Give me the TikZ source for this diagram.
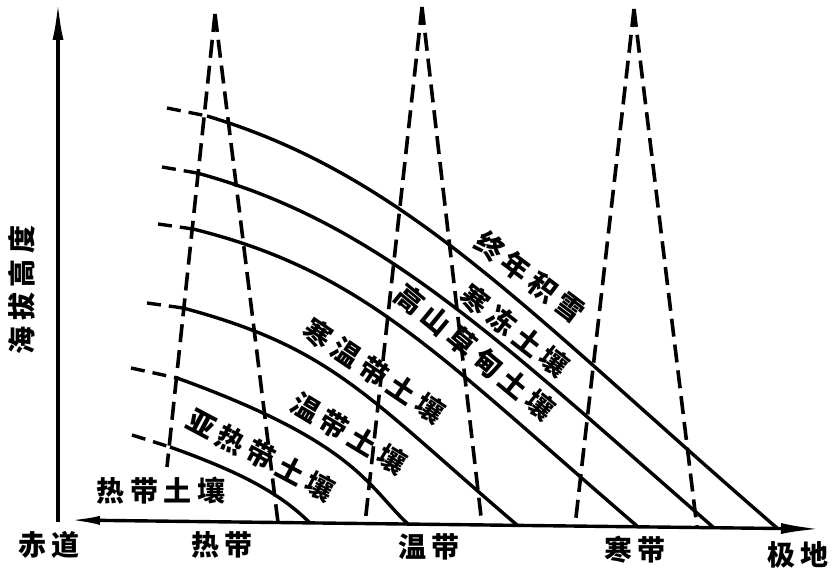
\documentclass[tikz,border=0pt]{standalone}
\usepackage{fontspec}
\newfontfamily\cjk{Noto Sans CJK SC}[LetterSpace=20]
\usetikzlibrary{arrows.meta}
\begin{document}
\begin{tikzpicture}[x=0.5pt,y=-0.5pt,
  lbl/.style={font=\cjk\bfseries\fontsize{14pt}{16pt}\selectfont, inner sep=0pt},
  axisline/.style={line width=1.7pt},
  soil/.style={line width=1.7pt},
  zone/.style={line width=1.8pt, dash pattern=on 9pt off 4pt},
  ext/.style={line width=1.7pt, dash pattern=on 7pt off 4pt}]
\useasboundingbox (0,0) rectangle (835,571);

% axes
\coordinate (yb) at (58,522);
\coordinate (yt) at (58,2);
\coordinate (xl) at (68,520);
\coordinate (xr) at (821,529);
\draw[axisline,-{Latex[length=19pt,width=5.5pt]}] (yb) -- (yt);
\draw[axisline,{Latex[length=16pt,width=4.5pt]}-{Latex[length=20pt,width=5.5pt]}] (xl) -- (xr);

% dashed zone peaks
\coordinate (p1) at (215,14);  \coordinate (p1l) at (167,467); \coordinate (p1r) at (278,522.5);
\coordinate (p2) at (422,7);   \coordinate (p2l) at (365,523.5); \coordinate (p2r) at (482,525);
\coordinate (p3) at (634,9);   \coordinate (p3l) at (575,526); \coordinate (p3r) at (697,527.5);
\foreach \p in {p1,p2,p3}{
  \draw[zone] (\p) -- (\p l);
  \draw[zone] (\p) -- (\p r);
}

% soil boundary curves
\coordinate (c1a) at (167,108); \coordinate (c1s) at (207,116); \coordinate (c1e) at (777,528);
\coordinate (c2a) at (162,167); \coordinate (c2s) at (197,173); \coordinate (c2e) at (713,527);
\coordinate (c3a) at (158,224); \coordinate (c3s) at (193,229); \coordinate (c3e) at (637,526);
\coordinate (c4a) at (147,303); \coordinate (c4s) at (183,308); \coordinate (c4e) at (517,525);
\coordinate (c5a) at (131,368); \coordinate (c5s) at (177,378); \coordinate (c5e) at (408,524);
\coordinate (c6a) at (132,435); \coordinate (c6s) at (170,447); \coordinate (c6e) at (310,523);

\draw[ext] (c1a) -- (c1s);
\draw[ext] (c2a) -- (c2s);
\draw[ext] (c3a) -- (c3s);
\draw[ext] (c4a) -- (c4s);
\draw[ext] (c5a) -- (c5s);
\draw[ext] (c6a) -- (c6s);

\draw[soil] (c1s) .. controls (407,176) and (527,312) .. (c1e);
\draw[soil] (c2s) .. controls (377,222) and (493,335) .. (c2e);
\draw[soil] (c3s) .. controls (363,271) and (437,354) .. (c3e);
\draw[soil] (c4s) .. controls (333,348) and (367,397) .. (c4e);
\draw[soil] (c5s) .. controls (357,443) and (368,487) .. (c5e);
\draw[soil] (c6s) .. controls (240,472) and (280,493) .. (c6e);

% soil labels
\node[lbl] (l1) at (161,491) {热带土壤};
\node[lbl,rotate=-28] (l2) at (261,455) {亚热带土壤};
\node[lbl,rotate=-31] (l3) at (349,433) {温带土壤};
\node[lbl,rotate=-34] (l4) at (374,371) {寒温带土壤};
\node[lbl,rotate=-39.5] (l5) at (475,352) {高山草甸土壤};
\node[lbl,rotate=-38] (l6) at (515,331) {寒冻土壤};
\node[lbl,rotate=-37] (l7) at (530,277) {终年积雪};

% axis labels
\node[lbl,rotate=90] (ya) at (22,290) {海拔高度};
\node[lbl] (x0) at (49,545) {赤道};
\node[lbl] (x1) at (222,545) {热带};
\node[lbl] (x2) at (429,547) {温带};
\node[lbl] (x3) at (635,550) {寒带};
\node[lbl] (x4) at (798,555) {极地};
\end{tikzpicture}
\end{document}
